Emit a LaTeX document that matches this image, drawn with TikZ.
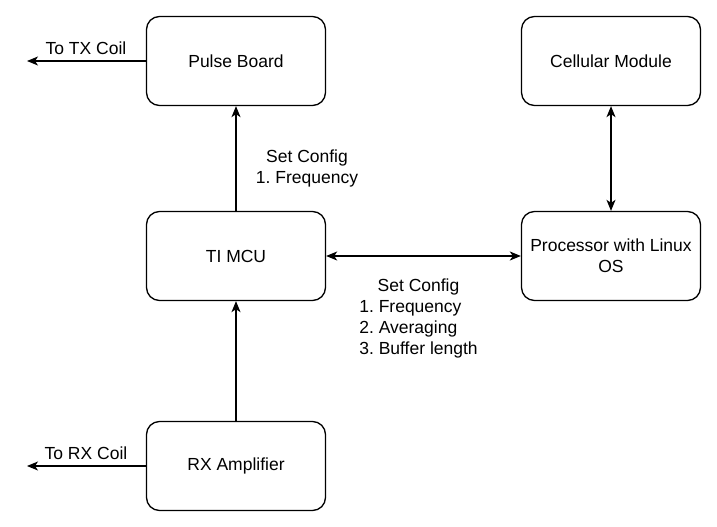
\documentclass[tikz,border=0pt]{standalone}
\usepackage{fontspec}
\setmainfont{Liberation Sans}
\usetikzlibrary{arrows.meta}
\frenchspacing
\begin{document}
\frenchspacing
\begin{tikzpicture}[x=1pt,y=-1pt,
  blk/.style={draw, line width=1.3pt, rounded corners=13pt, minimum width=179pt, minimum height=89pt, align=center, inner sep=2pt, font=\fontsize{17.5}{21}\selectfont},
  lbl/.style={font=\fontsize{17.5}{21}\selectfont, inner sep=0pt},
  conn/.style={line width=1.3pt, -{Stealth[length=11pt,width=9pt,inset=3pt]}},
  dconn/.style={line width=1.3pt, {Stealth[length=11pt,width=9pt,inset=3pt]}-{Stealth[length=11pt,width=9pt,inset=3pt]}}]
\useasboundingbox (0,0) rectangle (717,527);
\fill[white] (0,0) rectangle (717,527);
\node[blk] (pulse) at (236,61) {Pulse Board};
\node[blk] (mcu) at (236,256) {TI MCU};
\node[blk] (rx) at (236,466) {RX Amplifier};
\node[blk] (cell) at (611,61) {Cellular Module};
\node[blk] (proc) at (611,256) {Processor with Linux\\OS};
\coordinate (tx) at (27,61);
\coordinate (rxc) at (27,466);
\draw[conn] (pulse.west) -- (tx);
\draw[conn] (rx.west) -- (rxc);
\draw[conn] (mcu.north) -- (pulse.south);
\draw[conn] (rx.north) -- (mcu.south);
\draw[dconn] (mcu.east) -- (proc.west);
\draw[dconn] (cell.south) -- (proc.north);
\node[lbl] (ltx) at (86,48) {To TX Coil};
\node[lbl] (lrx) at (86,453) {To RX Coil};
\node[lbl, align=center] (l1) at (307,168.5) {Set Config\\1. Frequency};
\node[lbl] (l2) at (418.5,318.5) {\begin{tabular}{@{}l@{}}\multicolumn{1}{@{}c@{}}{Set Config}\\1. Frequency\\2. Averaging\\3. Buffer length\end{tabular}};
\end{tikzpicture}
\end{document}
